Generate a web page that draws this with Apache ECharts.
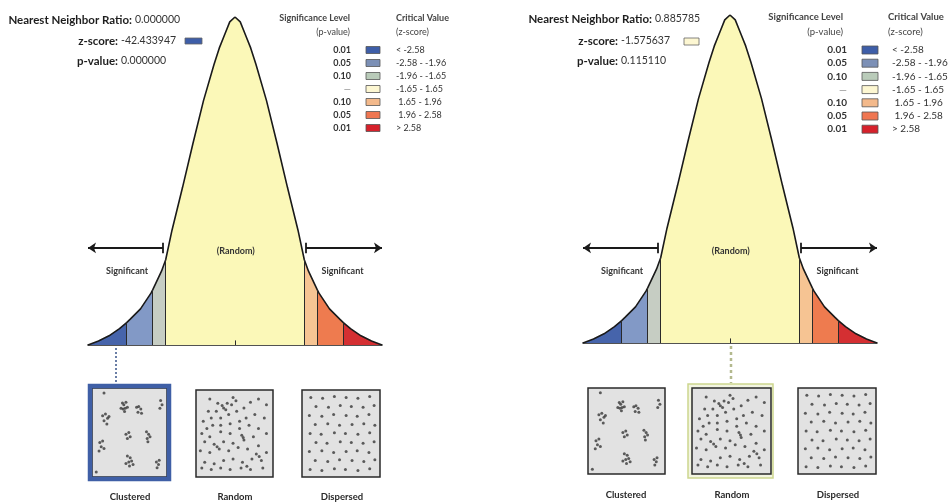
<!DOCTYPE html>
<html><head><meta charset="utf-8">
<script src="https://cdn.jsdelivr.net/npm/echarts@6/dist/echarts.min.js"></script>
<style>html,body{margin:0;padding:0;background:#fff}#c{width:951px;height:502px}</style>
</head><body><div id="c"></div>
<script>
// ---- data ----
const zVals = [-3.5,-3.25,-3,-2.75,-2.58,-2.5,-2.25,-2,-1.96,-1.75,-1.65,-1.5,-1.25,-1,-0.75,-0.5,-0.375,-0.25,-0.125,0,0.125,0.25,0.375,0.5,0.75,1,1.25,1.5,1.65,1.75,1.96,2,2.25,2.5,2.58,2.75,3,3.25,3.5];
const curveHeights = [0,0.012,0.028,0.05,0.068,0.078,0.11,0.158,0.168,0.225,0.26,0.35,0.48,0.615,0.745,0.855,0.905,0.945,0.985,1,0.985,0.945,0.905,0.855,0.745,0.615,0.48,0.35,0.26,0.225,0.168,0.158,0.11,0.078,0.068,0.05,0.028,0.012,0];
const bandEdges = [-3.5,-2.58,-1.96,-1.65,1.65,1.96,2.58,3.5];
const criticalValues = [-2.58,-1.96,-1.65,1.65,1.96,2.58];
const pLevels = ['0.01','0.05','0.10','—','0.10','0.05','0.01'];
const zRanges = ['< -2.58','-2.58 - -1.96','-1.96 - -1.65','-1.65 - 1.65',' 1.65 - 1.96',' 1.96 - 2.58','> 2.58'];
const statLabels = ['Nearest Neighbor Ratio:','z-score:','p-value:'];
const leftStats = ['0.000000','-42.433947','0.000000'];
const rightStats = ['0.885785','-1.575637','0.115110'];
const patternNames = ['Clustered','Random','Dispersed'];
const clusteredPts = [[40,15],[42,17],[45,14],[38,21],[41,22],[44,21],[47,20],[43,25],
 [60,20],[63,19],[66,22],[62,26],[67,27],
 [12,30],[16,28],[19,33],[14,36],[21,31],[18,40],
 [94,12],[96,17],[93,21],
 [45,52],[49,50],[47,57],[51,55],
 [74,49],[77,52],[75,57],[79,55],[76,61],
 [8,62],[12,60],[10,67],[14,69],[7,72],
 [47,78],[51,80],[49,85],[53,84],[45,87],[55,88],[50,90],
 [88,85],[91,88],[89,92],[92,83],[14,3],[3,97]];
const randomPts = [[16,8],[27,13],[40,13],[48,6],[46,15],[35,19],[25,23],[14,23],[18,31],[31,31],[42,27],[53,23],[63,19],[72,12],[83,8],[94,15],[91,31],[78,27],[66,31],[57,35],[44,38],[31,40],[20,40],[7,35],[5,50],[16,54],[31,48],[44,50],[57,44],[70,40],[83,44],[94,50],[76,54],[63,58],[48,62],[35,60],[22,63],[9,60],[3,71],[16,73],[29,69],[42,71],[55,67],[68,69],[83,65],[94,73],[87,83],[74,81],[61,85],[48,81],[35,83],[22,87],[9,85],[5,92],[18,94],[31,92],[44,94],[59,92],[72,94],[89,92],[33,16],[38,21],[52,10],[60,52],[62,55],[26,66],[80,75],[84,78],[12,44],[67,90]];
const dispersedPts = [[9,6],[25,7],[41,5],[57,6],[73,7],[89,5],
 [16,17],[33,18],[49,16],[64,17],[80,18],[95,16],
 [7,28],[24,29],[40,27],[57,28],[72,29],[88,27],
 [15,39],[32,38],[48,40],[65,39],[81,38],[96,40],
 [8,50],[23,51],[41,49],[56,50],[73,51],[89,49],
 [16,61],[31,62],[49,60],[64,61],[80,62],[95,60],
 [7,72],[24,71],[40,73],[57,72],[72,71],[88,73],
 [15,83],[32,84],[48,82],[65,83],[81,84],[96,82],
 [8,94],[24,95],[41,93],[56,94],[73,95],[89,93]];

// ---- styles ----
const bandColors = ['#4664ab','#8299c6','#c6cdc3','#fbf8b8','#f6c493','#ee7b4f','#d42f32'];
const swatchColors = ['#3e5ea8','#7c90b6','#b9cbb9','#fdf7d2','#f3b98b','#ef7651','#d6212b'];
const FONT = 'Lato, "Liberation Sans", sans-serif';

const pts = zVals.map((z,i)=>[z,curveHeights[i]]);
const hAt = z => curveHeights[zVals.indexOf(z)];

const panels = [
  {grid:{left:88,top:17,width:294,height:328}, stats:leftStats, arrowY:0.296, swatch:0},
  {grid:{left:583,top:15,width:294,height:328}, stats:rightStats, arrowY:0.29, swatch:3}
];

const grids=[], xAxes=[], yAxes=[], series=[];
panels.forEach((p,pi)=>{
  grids.push(Object.assign({containLabel:false},p.grid));
  xAxes.push({gridIndex:grids.length-1,type:'value',min:-3.5,max:3.5,
    axisLine:{show:true,onZero:false,lineStyle:{color:'#1a1a1a',width:1.6}},axisTick:{show:false},axisLabel:{show:false},splitLine:{show:false}});
  yAxes.push({gridIndex:grids.length-1,type:'value',min:0,max:1,show:false,splitLine:{show:false}});
  const ai = grids.length-1;
  for(let b=0;b<7;b++){
    series.push({type:'line',xAxisIndex:ai,yAxisIndex:ai,silent:true,symbol:'none',
      data:pts.filter(q=>q[0]>=bandEdges[b]&&q[0]<=bandEdges[b+1]),
      lineStyle:{width:0},areaStyle:{color:bandColors[b],opacity:1},z:2});
  }
  const ml = criticalValues.map(z=>[{coord:[z,0]},{coord:[z,hAt(z)]}]);
  ml.push([{coord:[0,0]},{coord:[0,0.014]}]);
  const ay=p.arrowY;
  const arrows = [
    [{coord:[-3.5,ay],symbol:'arrow'},{coord:[-1.71,ay],symbol:'none'}],
    [{coord:[-1.71,ay-0.016],symbol:'none'},{coord:[-1.71,ay+0.016],symbol:'none'}],
    [{coord:[1.69,ay],symbol:'none'},{coord:[3.5,ay],symbol:'arrow'}],
    [{coord:[1.69,ay-0.016],symbol:'none'},{coord:[1.69,ay+0.016],symbol:'none'}]
  ];
  series.push({type:'line',xAxisIndex:ai,yAxisIndex:ai,silent:true,symbol:'none',data:pts,
    lineStyle:{color:'#1a1a1a',width:1.6},z:4,
    markLine:{silent:true,symbol:['none','none'],label:{show:false},animation:false,
      lineStyle:{color:'#2a2a2a',width:1,type:'solid'},data:ml},
    markPoint:{silent:true,symbol:'circle',symbolSize:1,itemStyle:{color:'rgba(0,0,0,0)'},animation:false,
      label:{show:true,position:'inside',color:'#333',fontFamily:FONT,fontWeight:'bold',fontSize:9,formatter:d=>d.name},
      data:[{name:'(Random)',coord:[0.02,ay-0.01]},{name:'Significant',coord:[-2.57,ay-0.07]},{name:'Significant',coord:[2.56,ay-0.07]}]}
  });
  series.push({type:'line',xAxisIndex:ai,yAxisIndex:ai,silent:true,symbol:'none',data:[],z:5,
    markLine:{silent:true,symbol:['none','none'],symbolSize:[8,8],label:{show:false},animation:false,
      lineStyle:{color:'#1a1a1a',width:1.8,type:'solid'},data:arrows}});
});

// pattern boxes
const boxes = [
  {left:92,top:388,width:75,height:89},{left:196,top:390,width:77,height:87},{left:302,top:390,width:78,height:87},
  {left:588,top:388,width:77,height:86},{left:692,top:388,width:79,height:86},{left:798,top:388,width:78,height:86}
];
const patterns=[clusteredPts,randomPts,dispersedPts];
boxes.forEach((b,i)=>{
  grids.push(Object.assign({show:true,backgroundColor:'#e2e2e2',borderColor:'#2a2a2a',borderWidth:1.5,containLabel:false},b));
  const gi=grids.length-1;
  xAxes.push({gridIndex:gi,type:'value',min:-3,max:103,show:false});
  yAxes.push({gridIndex:gi,type:'value',min:-3,max:103,inverse:true,show:false});
  series.push({type:'scatter',xAxisIndex:gi,yAxisIndex:gi,silent:true,symbolSize:3,
    itemStyle:{color:'#383838'},data:patterns[i%3]});
});

// graphic texts
const G=[];
function txt(x,y,text,font,fill,align){
  G.push({type:'text',x:x,y:y,silent:true,style:{text:text,font:font,fill:fill||'#222',
    textAlign:align||'left',textVerticalAlign:'middle',align:align||'left',verticalAlign:'middle'}});
}
function rect(x,y,w,h,fill,stroke,lw,z){
  G.push({type:'rect',silent:true,z:z||0,shape:{x:x,y:y,width:w,height:h},style:{fill:fill,stroke:stroke,lineWidth:lw||1}});
}
// stats
const statCfg=[
  {lab:[132,118,118],ys:[20,41,61],val:135,vx:121,sw:[185,38,17,6],fs:11.5},
  {lab:[652,618,618],ys:[19,41,61],val:655,vx:621,sw:[684,38,15,7],fs:11.5}
];
panels.forEach((p,pi)=>{
  const c=statCfg[pi];
  statLabels.forEach((l,k)=>{
    txt(c.lab[k],c.ys[k],l,'bold '+c.fs+'px '+FONT,'#1e1e1e','right');
    txt(k===0?c.val:c.vx,c.ys[k],p.stats[k],c.fs-1+'px '+FONT,'#333','left');
  });
  rect(c.sw[0],c.sw[1],c.sw[2],c.sw[3],swatchColors[p.swatch],'#666',0.8);
});
// legends
const legCfg=[
  {pr:351,sx:366,sw:14,sh:7,vx:396,y0:50,dy:13,fs:9,hr:350,hx:396,hy:[18,32],hfs:9},
  {pr:847,sx:862,sw:16,sh:8,vx:892,y0:50,dy:13.2,fs:10,hr:843,hx:888,hy:[17,32],hfs:9.5}
];
legCfg.forEach(c=>{
  txt(c.hr,c.hy[0],'Significance Level','bold '+c.hfs+'px '+FONT,'#444','right');
  txt(c.hr,c.hy[1],'(p-value)',c.hfs+'px '+FONT,'#444','right');
  txt(c.hx,c.hy[0],'Critical Value','bold '+c.hfs+'px '+FONT,'#444','left');
  txt(c.hx,c.hy[1],'(z-score)',c.hfs+'px '+FONT,'#444','left');
  pLevels.forEach((pv,k)=>{
    const y=c.y0+k*c.dy;
    txt(c.pr,y,pv,(k===3?'':'bold ')+c.fs+'px '+FONT,k===3?'#888':'#333','right');
    rect(c.sx,y-c.sh/2,c.sw,c.sh,swatchColors[k],'#555',0.8);
    txt(c.vx,y,zRanges[k],c.fs+'px '+FONT,'#333','left');
  });
});
// pattern labels
[[130,497],[235,497],[342,497],[626,495],[732,495],[838,495]].forEach((q,i)=>{
  txt(q[0],q[1],patternNames[i%3],'bold 9.5px '+FONT,'#2a2a2a','center');
});
// highlight frames
rect(90,386,79,93,'none','#3f5fa6',4.5,10);
rect(688,384,85,94,'#f3f5e2','#cdd68e',1.5,-10);
// connectors
G.push({type:'line',silent:true,shape:{x1:116,y1:348,x2:116,y2:384},style:{stroke:'#6a7ea6',lineWidth:2,lineDash:[2,2]}});
G.push({type:'line',silent:true,shape:{x1:731,y1:346,x2:731,y2:383},style:{stroke:'#b3b98e',lineWidth:2.5,lineDash:[3,3]}});

const chart=echarts.init(document.getElementById('c'),null,{renderer:'canvas'});
chart.setOption({animation:false,backgroundColor:'#fff',grid:grids,xAxis:xAxes,yAxis:yAxes,series:series,graphic:{elements:G}});
</script></body></html>
